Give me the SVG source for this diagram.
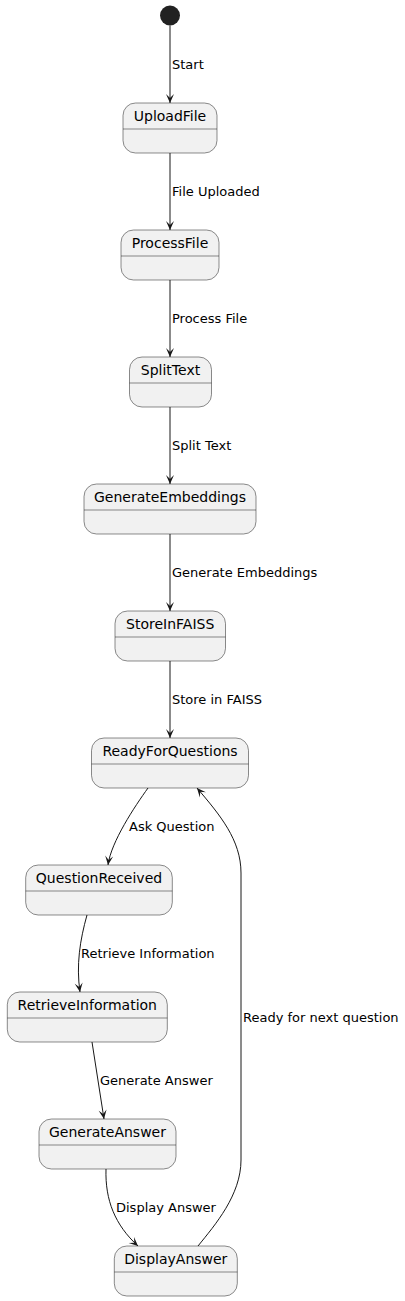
<svg xmlns="http://www.w3.org/2000/svg" width="405" height="1301" viewBox="0 0 405 1301">
<style>
.st rect{fill:#F1F1F1;stroke:#181818;stroke-width:0.5}
.st line{stroke:#181818;stroke-width:0.5}
.st text{font-family:"DejaVu Sans",sans-serif;font-size:14px;fill:#000;text-anchor:middle}
.edges path{fill:none;stroke:#181818;stroke-width:1;marker-end:url(#arr)}
.lbl{font-family:"DejaVu Sans",sans-serif;font-size:13px;fill:#000}
</style>
<defs>
<marker id="arr" markerUnits="userSpaceOnUse" viewBox="-10 -5 11 10" markerWidth="11" markerHeight="10" refX="0" refY="0" orient="auto">
<path d="M0,0 L-9,-4 L-5,0 L-9,4 Z" fill="#181818"/>
</marker>
</defs>
<rect width="405" height="1301" fill="#FFFFFF"/>
<g id="start"><circle cx="170" cy="15.5" r="10" fill="#222222"/></g>
<g id="UploadFile" class="st"><rect x="123" y="103" width="94" height="50" rx="12.5"/><line x1="123" y1="129" x2="217" y2="129"/><text x="170" y="121">UploadFile</text></g>
<g id="ProcessFile" class="st"><rect x="121" y="230" width="98" height="50" rx="12.5"/><line x1="121" y1="256" x2="219" y2="256"/><text x="170" y="248">ProcessFile</text></g>
<g id="SplitText" class="st"><rect x="129.5" y="357" width="82" height="50" rx="12.5"/><line x1="129.5" y1="383" x2="211.5" y2="383"/><text x="170.5" y="375">SplitText</text></g>
<g id="GenerateEmbeddings" class="st"><rect x="84" y="484" width="172" height="50" rx="12.5"/><line x1="84" y1="510" x2="256" y2="510"/><text x="170" y="502">GenerateEmbeddings</text></g>
<g id="StoreInFAISS" class="st"><rect x="115" y="611" width="110.5" height="50" rx="12.5"/><line x1="115" y1="637" x2="225.5" y2="637"/><text x="170.2" y="629">StoreInFAISS</text></g>
<g id="ReadyForQuestions" class="st"><rect x="91.5" y="738" width="157" height="50" rx="12.5"/><line x1="91.5" y1="764" x2="248.5" y2="764"/><text x="170" y="756">ReadyForQuestions</text></g>
<g id="QuestionReceived" class="st"><rect x="25.7" y="865" width="146.6" height="50" rx="12.5"/><line x1="25.7" y1="891" x2="172.3" y2="891"/><text x="99" y="883">QuestionReceived</text></g>
<g id="RetrieveInformation" class="st"><rect x="7.3" y="992" width="160" height="50" rx="12.5"/><line x1="7.3" y1="1018" x2="167.3" y2="1018"/><text x="87.3" y="1010">RetrieveInformation</text></g>
<g id="GenerateAnswer" class="st"><rect x="39" y="1119" width="137" height="50" rx="12.5"/><line x1="39" y1="1145" x2="176" y2="1145"/><text x="107.5" y="1137">GenerateAnswer</text></g>
<g id="DisplayAnswer" class="st"><rect x="114.3" y="1246" width="123" height="50" rx="12.5"/><line x1="114.3" y1="1272" x2="237.3" y2="1272"/><text x="175.8" y="1264">DisplayAnswer</text></g>
<g id="connectors" class="edges">
<path d="M170,25.5 L170,103"/>
<path d="M170,153 L170,230"/>
<path d="M170,280 L170,357"/>
<path d="M170,407 L170,484"/>
<path d="M170,534 L170,611"/>
<path d="M170,661 L170,738"/>
<path d="M148,788 C135,806 111,842 108,865"/>
<path d="M87,915 C80,940 76,965 80,992"/>
<path d="M92,1042 L104,1119"/>
<path d="M106,1169 C105,1200 115,1225 138,1246"/>
<path d="M198,1246 C215,1225 241,1195 241,1160 L241,873 C241,840 220,815 197,788"/>
</g>
<g id="labels">
<text class="lbl" x="172" y="69">Start</text>
<text class="lbl" x="172" y="196">File Uploaded</text>
<text class="lbl" x="172" y="323">Process File</text>
<text class="lbl" x="172" y="450">Split Text</text>
<text class="lbl" x="172" y="577">Generate Embeddings</text>
<text class="lbl" x="172" y="704">Store in FAISS</text>
<text class="lbl" x="129" y="831">Ask Question</text>
<text class="lbl" x="81" y="958">Retrieve Information</text>
<text class="lbl" x="100" y="1085">Generate Answer</text>
<text class="lbl" x="116" y="1212">Display Answer</text>
<text class="lbl" x="243" y="1022">Ready for next question</text>
</g>
</svg>
